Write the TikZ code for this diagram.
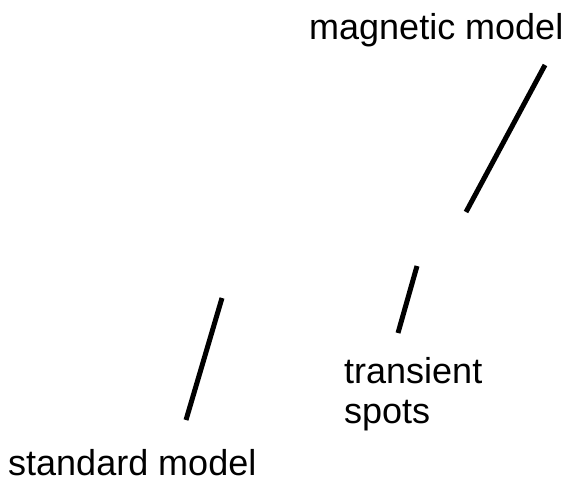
\documentclass[tikz,border=0pt]{standalone}
\usepackage{fontspec}
\setmainfont{Liberation Sans}
\usepackage{tikz}
\usetikzlibrary{positioning}

\begin{document}
\begin{tikzpicture}[
			x=1pt, y=-1pt,
			label/.style={
					inner sep=0pt, align=left,
					font=\fontsize{36}{40}\selectfont
				},
			pointer/.style={line width=5pt}
		]

		% frame
		\useasboundingbox (0,0) rectangle (573,482);

		% Labels
		\node[label, anchor=base west] (magnetic) at (309,39) {magnetic model};
		\node[label, anchor=base west] (transient) at (344,423) {transient\\spots};
		\node[label, anchor=base west] (standard) at (8,475) {standard model};

		% Line ends
		\coordinate (magtop) at (545,65);
		\coordinate (magend) at (466,212);
		\coordinate (trtop) at (417,266);
		\coordinate (trend) at (398,333);
		\coordinate (sttop) at (222,298);
		\coordinate (stend) at (186,420);

		% Lines
		\draw[pointer] (magtop) -- (magend);
		\draw[pointer] (trtop) -- (trend);
		\draw[pointer] (sttop) -- (stend);

	\end{tikzpicture}
\end{document}
